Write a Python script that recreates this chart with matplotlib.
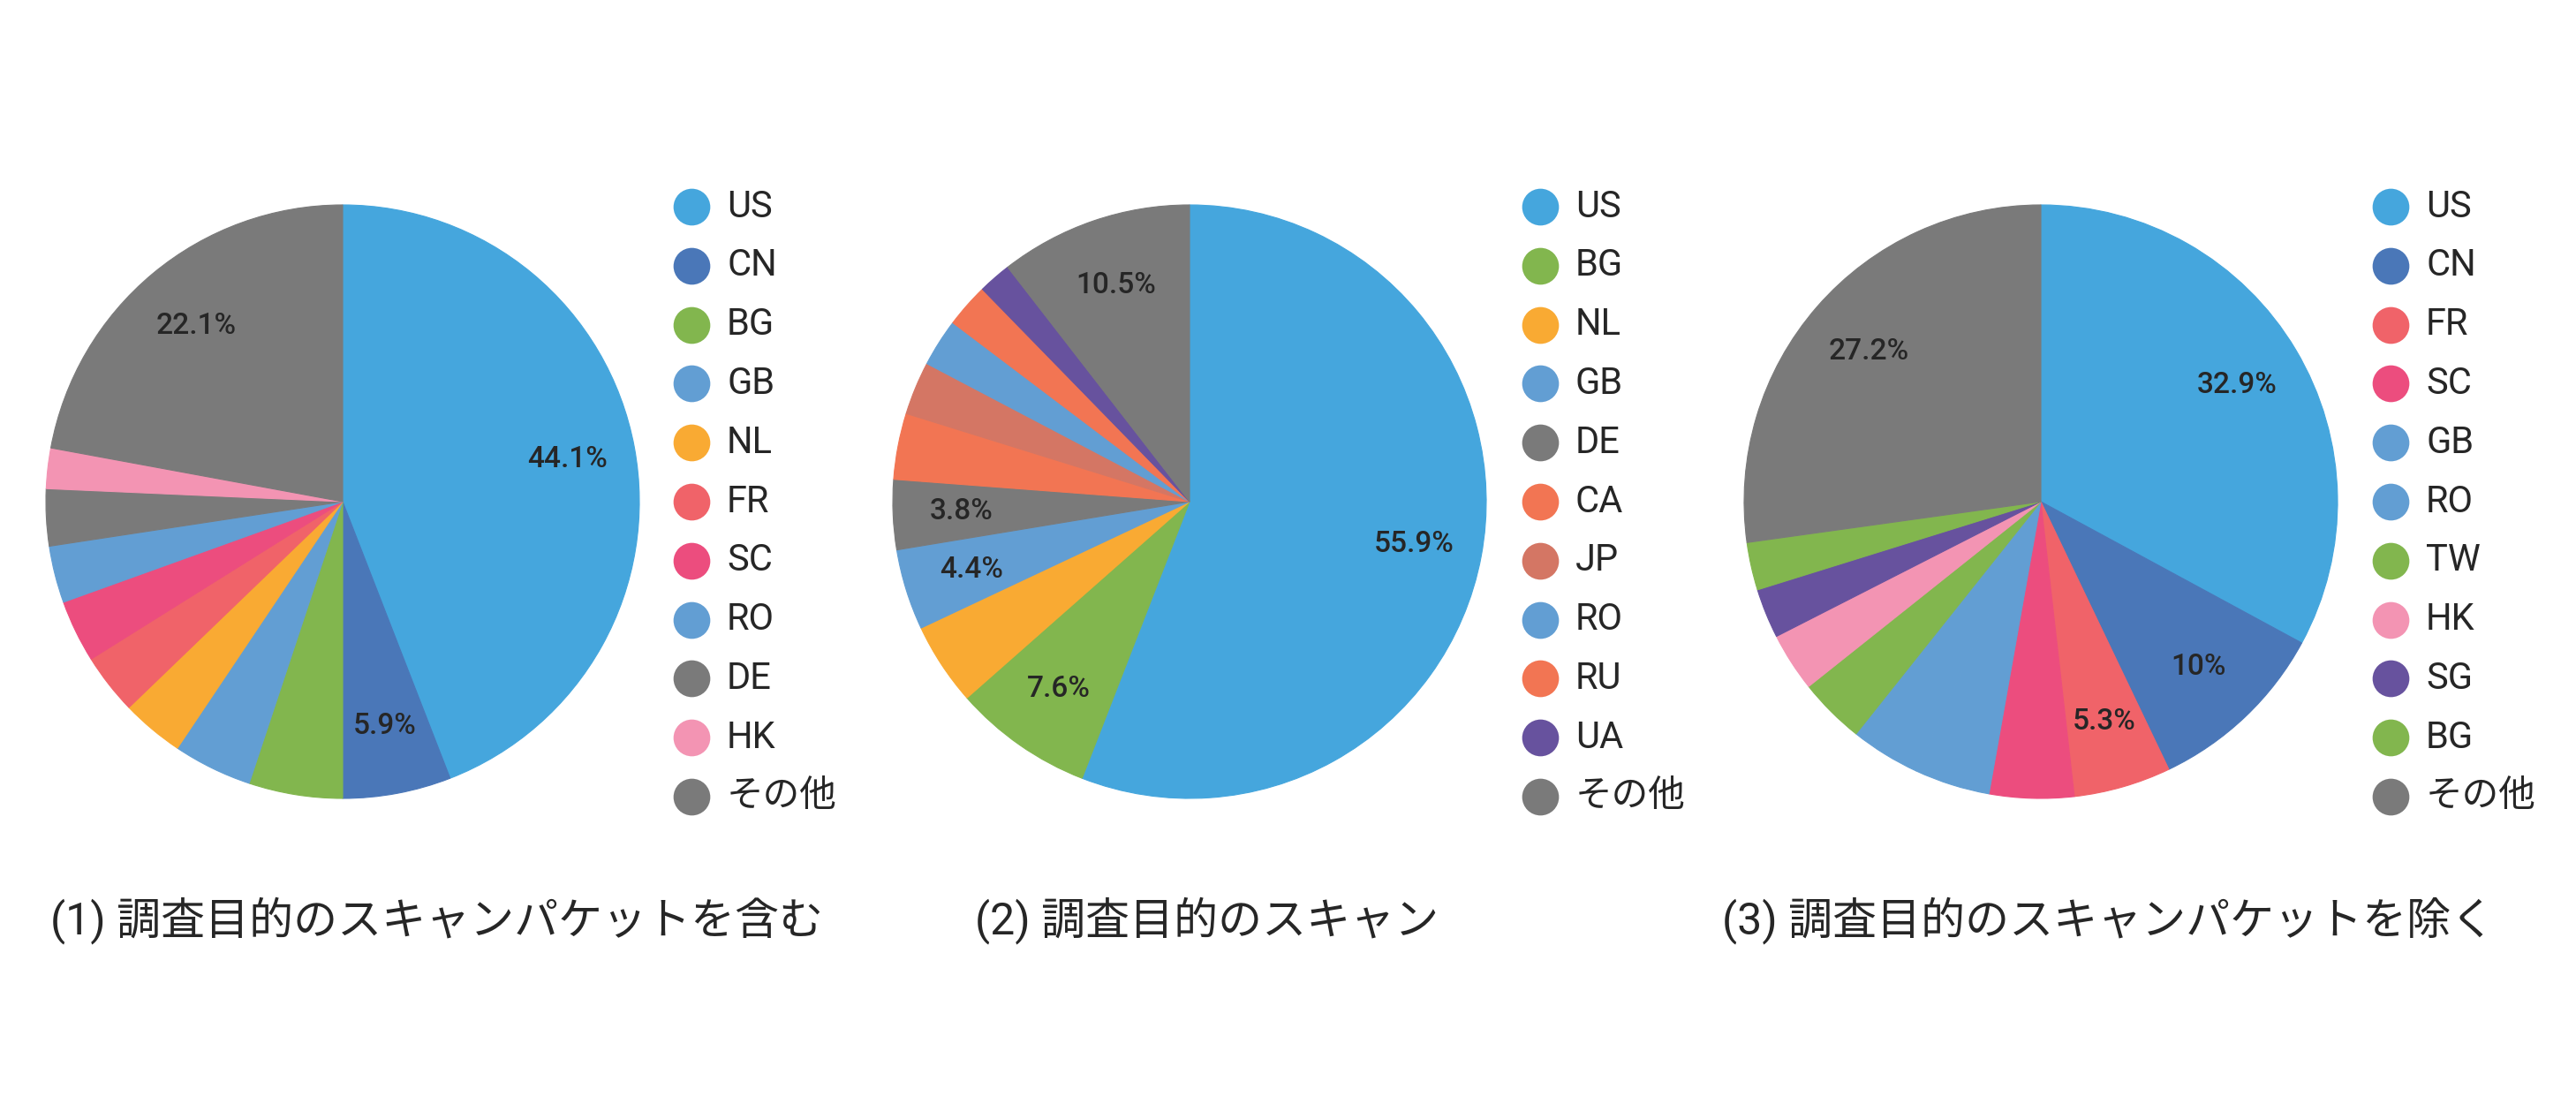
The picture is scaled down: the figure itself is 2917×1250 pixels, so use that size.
import matplotlib
matplotlib.use('Agg')
import matplotlib.pyplot as plt

plt.rcParams['font.family'] = ['Roboto', 'Noto Sans CJK JP', 'DejaVu Sans']

# colours per country code
C_US = '#45A6DD'
C_CN = '#4A77B8'
C_GREEN = '#82B64E'
C_LBLUE = '#629ED3'
C_NL = '#F9AA33'
C_FR = '#F06369'
C_SC = '#EC4D7E'
C_GRAY = '#7A7A7A'
C_HK = '#F394B3'
C_ORANGE = '#F27553'
C_JP = '#D47664'
C_PURPLE = '#67529E'

# (1) scans including research scanners
labels1 = ['US', 'CN', 'BG', 'GB', 'NL', 'FR', 'SC', 'RO', 'DE', 'HK', 'その他']
values1 = [44.1, 5.9, 5.1, 4.3, 3.4, 3.3, 3.4, 3.1, 3.1, 2.2, 22.1]
colors1 = [C_US, C_CN, C_GREEN, C_LBLUE, C_NL, C_FR, C_SC, C_LBLUE, C_GRAY, C_HK, C_GRAY]
texts1 = ['44.1%', '5.9%', '', '', '', '', '', '', '', '', '22.1%']
title1 = '(1) 調査目的のスキャンパケットを含む'

# (2) research scans
labels2 = ['US', 'BG', 'NL', 'GB', 'DE', 'CA', 'JP', 'RO', 'RU', 'UA', 'その他']
values2 = [55.9, 7.6, 4.5, 4.4, 3.8, 3.6, 2.9, 2.6, 2.4, 1.8, 10.5]
colors2 = [C_US, C_GREEN, C_NL, C_LBLUE, C_GRAY, C_ORANGE, C_JP, C_LBLUE, C_ORANGE, C_PURPLE, C_GRAY]
texts2 = ['55.9%', '7.6%', '', '4.4%', '3.8%', '', '', '', '', '', '10.5%']
title2 = '(2) 調査目的のスキャン'

# (3) excluding research scans
labels3 = ['US', 'CN', 'FR', 'SC', 'GB', 'RO', 'TW', 'HK', 'SG', 'BG', 'その他']
values3 = [32.9, 10.0, 5.3, 4.6, 4.1, 3.8, 3.6, 3.2, 2.7, 2.6, 27.2]
colors3 = [C_US, C_CN, C_FR, C_SC, C_LBLUE, C_LBLUE, C_GREEN, C_HK, C_PURPLE, C_GREEN, C_GRAY]
texts3 = ['32.9%', '10%', '5.3%', '', '', '', '', '', '', '', '27.2%']
title3 = '(3) 調査目的のスキャンパケットを除く'

TEXT = '#262626'
W, H = 2917, 1250
fig = plt.figure(figsize=(W / 100, H / 100), dpi=100)

# layout in pixels
pie_cx = [388, 1347, 2311]
pie_cy = 568
pie_r = 336
leg_x = [783, 1744, 2707]
leg_y0 = 234
leg_step = 66.8
title_x = [57, 1104, 1950]
title_y = 1042

overlay = fig.add_axes([0, 0, 1, 1])
overlay.set_xlim(0, W)
overlay.set_ylim(H, 0)
overlay.axis('off')

charts = [
    (labels1, values1, colors1, texts1, title1),
    (labels2, values2, colors2, texts2, title2),
    (labels3, values3, colors3, texts3, title3),
]

for i, (labels, values, colors, texts, title) in enumerate(charts):
    cx = pie_cx[i]
    ax = fig.add_axes([(cx - pie_r) / W, 1 - (pie_cy + pie_r) / H, 2 * pie_r / W, 2 * pie_r / H])
    it = iter(texts)
    wedges, _, _ = ax.pie(values, colors=colors, startangle=90, counterclock=False, radius=1,
                          autopct=lambda p, it=it: next(it), pctdistance=0.77,
                          textprops=dict(fontsize=24, color=TEXT, fontweight='medium'))
    # hide anti-aliasing seams between wedges
    for w in wedges:
        w.set_edgecolor(w.get_facecolor())
        w.set_linewidth(0.8)
    ax.set_xlim(-1, 1)
    ax.set_ylim(-1, 1)
    ax.set_aspect('equal')
    ax.axis('off')

    # legend
    for j, (lab, col) in enumerate(zip(labels, colors)):
        y = leg_y0 + j * leg_step
        overlay.plot(leg_x[i], y, 'o', ms=30, color=col, mec='none')
        overlay.text(leg_x[i] + 40, y, lab, fontsize=30, color=TEXT, va='center', ha='left')

    overlay.text(title_x[i], title_y, title, fontsize=36, color=TEXT, va='center', ha='left')

fig.savefig('out.png', dpi=100, facecolor='white')
